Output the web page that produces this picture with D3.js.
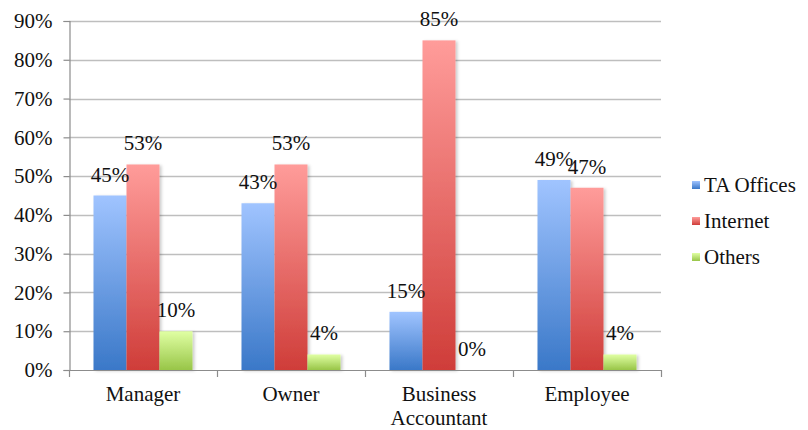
<!DOCTYPE html>
<html>
<head>
<meta charset="utf-8">
<script src="https://cdn.jsdelivr.net/npm/d3@7"></script>
<style>
  html, body { margin: 0; padding: 0; background: #fff; }
  svg { display: block; }
  #chart text { font-family: "Liberation Serif" !important; }
</style>
</head>
<body>
<svg id="chart" width="808" height="430"></svg>
<script>
// Categories and series values (percent)
const categories = ["Manager", "Owner", "Business\nAccountant", "Employee"];
const seriesNames = ["TA Offices", "Internet", "Others"];
const taOffices = [45, 43, 15, 49];
const internet = [53, 53, 85, 47];
const others = [10, 4, 0, 4];
const yTicks = [0, 10, 20, 30, 40, 50, 60, 70, 80, 90];

const seriesValues = [taOffices, internet, others];
// top / bottom colours of each bar gradient
const gradStops = [
  ["#a0c4ff", "#3a78c8"],
  ["#ff9c9a", "#cf3d39"],
  ["#e0ffa3", "#98c548"]
];

const FONT = '"Liberation Serif"';
const FS = 21;
const svg = d3.select("#chart");
const plotL = 69, plotR = 661;
const plotT = 21, plotB = 370;

const x0 = d3.scaleBand().domain(d3.range(categories.length)).range([plotL, plotR]).paddingInner(0).paddingOuter(0);
const x1 = d3.scaleBand().domain(d3.range(seriesNames.length)).range([0, x0.bandwidth()]).paddingInner(0).paddingOuter(0.742);
const y = d3.scaleLinear().domain([0, 90]).range([plotB, plotT]);

const defs = svg.append("defs");
gradStops.forEach((g, i) => {
  const lg = defs.append("linearGradient").attr("id", "grad" + i)
    .attr("x1", 0).attr("y1", 0).attr("x2", 0).attr("y2", 1);
  lg.append("stop").attr("offset", "0%").attr("stop-color", g[0]);
  lg.append("stop").attr("offset", "100%").attr("stop-color", g[1]);
});
const f = defs.append("filter").attr("id", "shadow").attr("x", "-20%").attr("y", "-20%").attr("width", "150%").attr("height", "150%");
f.append("feDropShadow").attr("dx", 2).attr("dy", 1).attr("stdDeviation", 1.5).attr("flood-color", "#000").attr("flood-opacity", 0.2);

// horizontal gridlines
svg.append("g").selectAll("line").data(yTicks.filter(t => t > 0)).join("line")
  .attr("x1", plotL).attr("x2", plotR)
  .attr("y1", d => Math.round(y(d)) + 0.5).attr("y2", d => Math.round(y(d)) + 0.5)
  .attr("stroke", "#bebebe").attr("stroke-width", 1.5);

// y axis
const yAxis = svg.append("g").attr("transform", `translate(${plotL + 0.5},0)`)
  .call(d3.axisLeft(y).tickValues(yTicks).tickFormat(d => d + "%").tickSize(6).tickPadding(11))
  .attr("font-family", null);
yAxis.select(".domain").attr("stroke", "#8c8c8c").attr("stroke-width", 1.2);
yAxis.selectAll(".tick line").attr("stroke", "#8c8c8c").attr("stroke-width", 1.2);
yAxis.selectAll(".tick text").attr("font-size", FS).attr("fill", "#111").style("font-family", FONT);

// bars
const groups = svg.append("g").selectAll("g").data(categories).join("g")
  .attr("transform", (d, i) => `translate(${x0(i)},0)`);
groups.each(function (c, ci) {
  const g = d3.select(this);
  seriesValues.forEach((vals, si) => {
    const v = vals[ci];
    if (v > 0) {
      g.append("rect")
        .attr("x", x1(si)).attr("width", x1.bandwidth())
        .attr("y", y(v)).attr("height", plotB - y(v))
        .attr("fill", `url(#grad${si})`).attr("filter", "url(#shadow)");
    }
  });
});
// value labels
groups.each(function (c, ci) {
  const g = d3.select(this);
  seriesValues.forEach((vals, si) => {
    const v = vals[ci];
    g.append("text")
      .attr("x", x1(si) + x1.bandwidth() / 2).attr("y", y(v) - 14)
      .attr("text-anchor", "middle").attr("font-size", FS).attr("fill", "#111")
      .style("font-family", FONT)
      .text(v + "%");
  });
});

// x axis
const xAxisG = svg.append("g");
xAxisG.append("line").attr("x1", plotL).attr("x2", plotR)
  .attr("y1", plotB + 0.5).attr("y2", plotB + 0.5).attr("stroke", "#8c8c8c").attr("stroke-width", 1.2);
xAxisG.selectAll("line.tick").data(d3.range(categories.length + 1)).join("line").attr("class", "tick")
  .attr("x1", i => plotL + i * x0.bandwidth() + 0.5).attr("x2", i => plotL + i * x0.bandwidth() + 0.5)
  .attr("y1", plotB).attr("y2", plotB + 7).attr("stroke", "#8c8c8c").attr("stroke-width", 1.2);
xAxisG.selectAll("text").data(categories).join("text")
  .attr("x", (d, i) => x0(i) + x0.bandwidth() / 2).attr("y", plotB + 31)
  .attr("text-anchor", "middle").attr("font-size", FS).attr("fill", "#111")
  .style("font-family", FONT)
  .each(function (d) {
    const sel = d3.select(this);
    const cx = sel.attr("x");
    sel.selectAll("tspan").data(d.split("\n")).join("tspan")
      .attr("x", cx).attr("dy", (t, k) => k === 0 ? 0 : 24).text(t => t);
  });

// legend
const legend = svg.append("g").attr("transform", "translate(692,185)");
seriesNames.forEach((n, i) => {
  const item = legend.append("g").attr("transform", `translate(0,${i * 36})`);
  item.append("rect").attr("x", 0).attr("y", -4).attr("width", 8).attr("height", 8)
    .attr("fill", `url(#grad${i})`);
  item.append("text").attr("x", 12).attr("y", 7).attr("font-size", FS).attr("fill", "#111")
    .style("font-family", FONT).text(n);
});
</script>
</body>
</html>
